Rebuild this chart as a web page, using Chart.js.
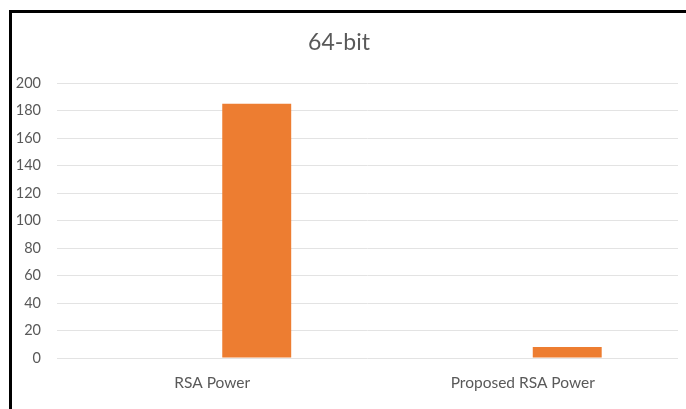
<!DOCTYPE html>
<html>
<head>
<meta charset="utf-8">
<script src="https://cdn.jsdelivr.net/npm/chart.js@4.4.0/dist/chart.umd.min.js"></script>
<style>
  html, body { margin: 0; padding: 0; background: #fff; }
  #wrap { position: relative; width: 686px; height: 409px; overflow: hidden; }
  #chart { display: block; }
  #frame { position: absolute; left: 9px; top: 10px; width: 700px; height: 420px;
           border-left: 3px solid #000; border-top: 3px solid #000; pointer-events: none; }
</style>
</head>
<body>
<div id="wrap">
  <canvas id="chart" width="686" height="409"></canvas>
  <div id="frame"></div>
</div>
<script>
var categories = ["RSA Power", "Proposed RSA Power"];
var seriesBlank = [null, null];
var seriesPower = [185, 8];
var yTicks = [0, 20, 40, 60, 80, 100, 120, 140, 160, 180, 200];

var ctx = document.getElementById("chart").getContext('2d');
var myChart = new Chart(ctx, {
    type: 'bar',
    data: {
        labels: categories,
        datasets: [{
            label: "Series1",
            backgroundColor: "#4472C4",
            data: seriesBlank
        }, {
            label: "Series2",
            backgroundColor: "#ED7D31",
            data: seriesPower
        }]
    },
    options: {
        responsive: false,
        animation: false,
        categoryPercentage: 0.573,
        barPercentage: 0.775,
        layout: { padding: { left: 0, right: 8, top: 0, bottom: 0 } },
        plugins: {
            legend: { display: false },
            tooltip: { enabled: false },
            title: {
                display: true,
                text: "64-bit",
                color: "#595959",
                font: { family: "Lato", size: 23, weight: 'normal', lineHeight: 1.2 },
                padding: { top: 29, bottom: 26.4 }
            }
        },
        scales: {
            x: {
                afterFit: function(scale) { scale.height = 51; },
                grid: { display: false },
                border: { display: false },
                ticks: {
                    color: "#595959",
                    font: { family: "Lato", size: 15.5, lineHeight: 1.2 },
                    padding: 8,
                    maxRotation: 0
                }
            },
            y: {
                min: yTicks[0],
                max: yTicks[yTicks.length - 1],
                afterFit: function(scale) { scale.width = 57; },
                afterBuildTicks: function(scale) {
                    scale.ticks = yTicks.map(function(v) { return { value: v }; });
                },
                grid: { color: "#e3e3e3", drawTicks: false, lineWidth: 1 },
                border: { display: false },
                ticks: {
                    color: "#595959",
                    font: { family: "Lato", size: 14.5 },
                    padding: 16
                }
            }
        }
    }
});
</script>
</body>
</html>
